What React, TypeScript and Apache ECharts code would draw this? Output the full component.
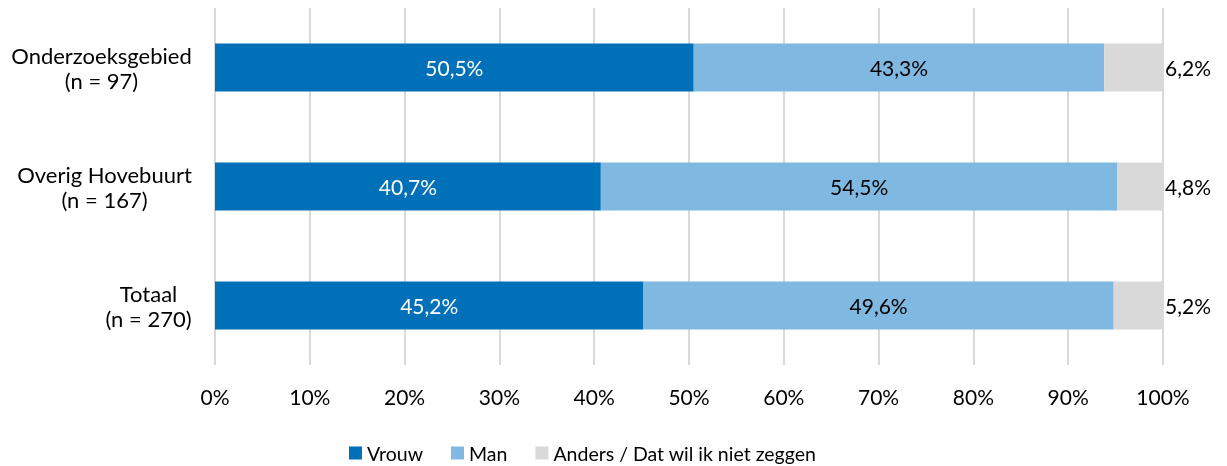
import React, { useEffect, useRef } from "react";
import * as echarts from "echarts";

const categories = ["Onderzoeksgebied\n(n = 97)", "Overig Hovebuurt\n(n = 167)", "Totaal\n(n = 270)"];
const vrouw = [50.5, 40.7, 45.2];
const man = [43.3, 54.5, 49.6];
const anders = [6.2, 4.8, 5.2];
const seriesNames = ["Vrouw", "Man", "Anders / Dat wil ik niet zeggen"];

const FONT = "Lato, 'Open Sans', sans-serif";
const FS = 21;
const FS_Y = 22;
const FS_LEG = 19.5;

export default function App() {
  const ref = useRef<HTMLDivElement>(null);
  useEffect(() => {
    const chart = echarts.init(ref.current!, null, { renderer: "svg" });
    const ctx = document.createElement("canvas").getContext("2d")!;
    ctx.font = `${FS_Y}px Lato`;
    const rich: Record<string, any> = {};
    categories.forEach((c, i) => {
      const w = Math.max(...c.split("\n").map((l) => ctx.measureText(l).width));
      rich["r" + i] = { width: Math.ceil(w) + 2, align: "center", fontSize: FS_Y, lineHeight: 25, color: "#000", fontFamily: FONT };
    });
    const fmt = (p: any) => p.value.toFixed(1).replace(".", ",") + "%";
    const mk = (name: string, data: number[], color: string, labelColor: string, pos: string) => ({
      name,
      type: "bar",
      stack: "total",
      data,
      barWidth: 48,
      itemStyle: { color },
      label: {
        show: true,
        position: pos,
        formatter: fmt,
        color: labelColor,
        fontSize: FS,
        fontFamily: FONT,
        distance: 2,
      },
    });
    chart.setOption({
      animation: false,
      textStyle: { fontFamily: FONT },
      grid: { left: 215, right: 64, top: 8, bottom: 101 },
      legend: {
        top: 438,
        left: 344,
        itemWidth: 13,
        itemHeight: 13,
        itemGap: 28,
        icon: "rect",
        textStyle: { fontSize: FS_LEG, color: "#000", fontFamily: FONT },
        data: seriesNames,
      },
      xAxis: {
        type: "value",
        min: 0,
        max: 100,
        interval: 10,
        axisLabel: { formatter: "{value}%", fontSize: FS, color: "#000", margin: 21, fontFamily: FONT },
        splitLine: { lineStyle: { color: "#D9D9D9", width: 2 } },
        axisLine: { show: false },
        axisTick: { show: false },
      },
      yAxis: {
        type: "category",
        inverse: true,
        data: categories,
        axisLine: { show: false },
        axisTick: { show: false },
        axisLabel: {
          margin: 22,
          formatter: (v: string, i: number) => v.split("\n").map((l) => `{r${i}|${l}}`).join("\n"),
          rich,
        },
      },
      series: [
        mk(seriesNames[0], vrouw, "#0070B8", "#fff", "inside"),
        mk(seriesNames[1], man, "#7FB8E0", "#000", "inside"),
        mk(seriesNames[2], anders, "#D9D9D9", "#000", "right"),
      ],
    });
    return () => chart.dispose();
  }, []);
  return <div ref={ref} style={{ position: "fixed", left: 0, top: 0, width: 1227, height: 466 }} />;
}
